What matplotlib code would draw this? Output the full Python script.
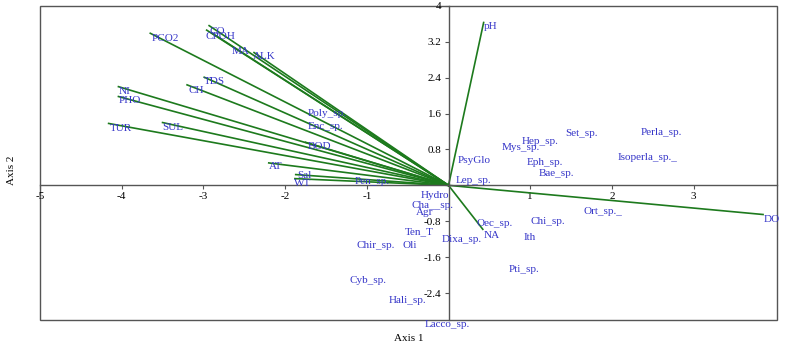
import matplotlib.pyplot as plt
from matplotlib.patches import Rectangle

plt.rcParams['font.family'] = ['Liberation Serif', 'DejaVu Serif']

# environmental variables: arrow tips and where their labels sit
env_names = ['CO', 'CPOH', 'MA', 'ALK', 'PCO2', 'TDS', 'CH', 'NI', 'PHO',
             'TUR', 'SUL', 'BOD', 'AT', 'Sal', 'WT', 'pH', 'NA', 'DO']
env_x = [-2.93, -2.96, -2.90, -2.38, -3.65, -2.99, -3.20, -4.04, -4.04,
         -4.16, -3.50, -1.75, -2.20, -1.87, -1.88, 0.43, 0.42, 3.85]
env_y = [3.56, 3.46, 3.40, 2.96, 3.39, 2.41, 2.24, 2.20, 1.98,
         1.38, 1.40, 0.96, 0.50, 0.24, 0.15, 3.63, -0.98, -0.65]
env_lab_x = [-2.83, -2.79, -2.55, -2.25, -3.47, -2.86, -3.09, -3.96, -3.90,
             -4.01, -3.37, -1.58, -2.11, -1.76, -1.78, 0.52, 0.53, 3.96]
env_lab_y = [3.44, 3.31, 2.98, 2.87, 3.28, 2.31, 2.11, 2.10, 1.89,
             1.27, 1.30, 0.87, 0.41, 0.22, 0.05, 3.53, -1.11, -0.76]

# species scores
sp_names = ['Poly_sp.', 'Enc_sp.', 'Pen_sp.', 'PsyGlo', 'Lep_sp.', 'Mys_sp.',
            'Hep_sp.', 'Set_sp.', 'Perla_sp.', 'Isoperla_sp._', 'Eph_sp.',
            'Bae_sp.', 'Ort_sp._', 'Chi_sp.', 'Oec_sp.', 'Ith', 'Pti_sp.',
            'Dixa_sp.', 'Hydro', 'Cha__sp.', 'Agr', 'Ten_T', 'Chir_sp.',
            'Oli', 'Cyb_sp.', 'Hali_sp.', 'Lacco_sp.']
sp_x = [-1.48, -1.51, -0.93, 0.32, 0.30, 0.88, 1.12, 1.63, 2.61, 2.44, 1.18,
        1.32, 1.89, 1.21, 0.57, 0.99, 0.92, 0.16, -0.17, -0.20, -0.29, -0.36,
        -0.89, -0.47, -0.98, -0.50, -0.01]
sp_y = [1.61, 1.32, 0.09, 0.56, 0.11, 0.85, 0.98, 1.15, 1.18, 0.63, 0.50,
        0.27, -0.58, -0.81, -0.84, -1.16, -1.87, -1.20, -0.22, -0.44, -0.61,
        -1.04, -1.33, -1.33, -2.13, -2.57, -3.11]

x_ticks = [-5, -4, -3, -2, -1, 1, 2, 3]
y_ticks = [-2.4, -1.6, -0.8, 0.8, 1.6, 2.4, 3.2, 4]

blue = '#3535c8'
green = '#1d7a1d'
grey = '#555555'

fig = plt.figure(figsize=(7.92, 3.47), dpi=100)
ax = fig.add_axes([0.0505, 0.078, 0.9305, 0.905])
ax.set_xlim(-5, 4.02)
ax.set_ylim(-3, 4)

# arrows from origin
for x, y in zip(env_x, env_y):
    ax.plot([0, x], [0, y], color=green, lw=1.2, zorder=2)
for name, x, y in zip(env_names, env_lab_x, env_lab_y):
    ax.text(x, y, name, color=blue, fontsize=8, ha='center', va='center', zorder=3)
for name, x, y in zip(sp_names, sp_x, sp_y):
    ax.text(x, y, name, color=blue, fontsize=8, ha='center', va='center',
            zorder=3, clip_on=False)

# axes through the origin, box around the plot
for s in ['top', 'right']:
    ax.spines[s].set_visible(False)
ax.spines['left'].set_position(('data', 0))
ax.spines['bottom'].set_position(('data', 0))
for s in ['left', 'bottom']:
    ax.spines[s].set_color(grey)
    ax.spines[s].set_linewidth(1.0)
ax.add_patch(Rectangle((0, 0), 1, 1, transform=ax.transAxes, fill=False,
                       edgecolor=grey, lw=1.0, clip_on=False))

ax.set_xticks(x_ticks)
ax.set_xticklabels([str(t) for t in x_ticks])
ax.set_yticks(y_ticks)
ax.set_yticklabels([('%g' % t) for t in y_ticks])
ax.tick_params(axis='both', labelsize=8, length=3, color=grey, pad=2)

fig.text(0.516, 0.025, 'Axis 1', fontsize=8, ha='center', va='center')
fig.text(0.015, 0.51, 'Axis 2', fontsize=8, ha='center', va='center', rotation=90)

fig.savefig('out.png', dpi=100)
